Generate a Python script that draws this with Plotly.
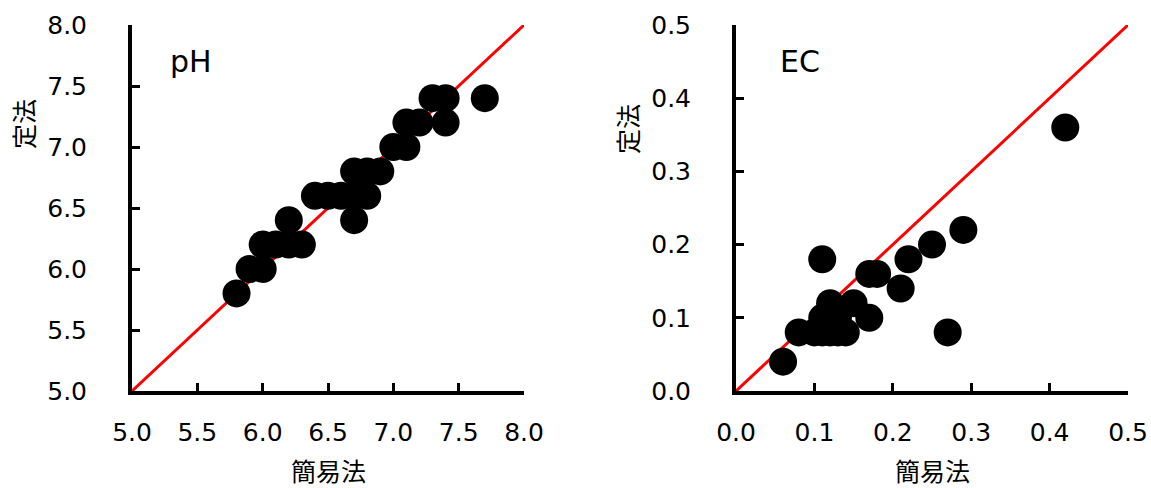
import plotly.graph_objects as go

# pH data (簡易法 vs 定法)
ph_simple = [5.8, 5.9, 6.0, 6.0, 6.1, 6.2, 6.2, 6.3, 6.4, 6.5, 6.6, 6.7, 6.7, 6.7, 6.8, 6.8, 6.9, 7.0, 7.1, 7.1, 7.2, 7.3, 7.4, 7.4, 7.7]
ph_standard = [5.8, 6.0, 6.0, 6.2, 6.2, 6.2, 6.4, 6.2, 6.6, 6.6, 6.6, 6.4, 6.6, 6.8, 6.8, 6.6, 6.8, 7.0, 7.0, 7.2, 7.2, 7.4, 7.4, 7.2, 7.4]

# EC data
ec_simple = [0.06, 0.08, 0.11, 0.10, 0.11, 0.12, 0.13, 0.14, 0.11, 0.12, 0.13, 0.12, 0.15, 0.17, 0.17, 0.18, 0.21, 0.22, 0.25, 0.29, 0.27, 0.42]
ec_standard = [0.04, 0.08, 0.18, 0.08, 0.08, 0.08, 0.08, 0.08, 0.10, 0.10, 0.10, 0.12, 0.12, 0.10, 0.16, 0.16, 0.14, 0.18, 0.20, 0.22, 0.08, 0.36]

ph_range = [5.0, 8.0]
ec_range = [0.0, 0.5]

x_title = "簡易法"
y_title = "定法"

font_family = "DejaVu Sans, Verdana, Noto Sans CJK JP"
jp_font = "Noto Sans CJK JP"

fig = go.Figure()

# 1:1 lines
fig.add_trace(go.Scatter(x=ph_range, y=ph_range, mode="lines",
                         line=dict(color="#ff0000", width=3), xaxis="x", yaxis="y",
                         showlegend=False, hoverinfo="skip"))
fig.add_trace(go.Scatter(x=ec_range, y=ec_range, mode="lines",
                         line=dict(color="#ff0000", width=3), xaxis="x2", yaxis="y2",
                         showlegend=False, hoverinfo="skip"))

fig.add_trace(go.Scatter(x=ph_simple, y=ph_standard, mode="markers",
                         marker=dict(color="black", size=28), xaxis="x", yaxis="y",
                         cliponaxis=False, showlegend=False))
fig.add_trace(go.Scatter(x=ec_simple, y=ec_standard, mode="markers",
                         marker=dict(color="black", size=28), xaxis="x2", yaxis="y2",
                         cliponaxis=False, showlegend=False))

W, H = 1151, 488


def px(sx):
    return sx / W


def py(sy):
    return 1 - sy / H


top, bottom = 25, 391
yd = [py(bottom), py(top)]

axis_common = dict(showgrid=False, zeroline=False, showline=True, linecolor="black",
                   linewidth=4, ticks="inside", ticklen=8, tickwidth=3, tickcolor="black",
                   tickfont=dict(family=font_family, size=25, color="black"),
                   tickformat=".1f", fixedrange=True, automargin=False,
                   ticklabeloverflow="allow")

fig.update_layout(
    width=W, height=H,
    margin=dict(l=0, r=0, t=0, b=0, autoexpand=False),
    paper_bgcolor="white", plot_bgcolor="white",
    xaxis=dict(domain=[px(132), px(524)], range=ph_range, dtick=0.5, anchor="y",
               ticklabelstandoff=16, **axis_common),
    yaxis=dict(domain=yd, range=ph_range, dtick=0.5, anchor="x",
               ticklabelstandoff=36, **axis_common),
    xaxis2=dict(domain=[px(736), px(1128)], range=ec_range, dtick=0.1, anchor="y2",
                ticklabelstandoff=16, **axis_common),
    yaxis2=dict(domain=yd, range=ec_range, dtick=0.1, anchor="x2",
                ticklabelstandoff=36, **axis_common),
)

annotations = [
    dict(text="pH", x=px(168), y=py(62), xanchor="left", yanchor="middle",
         font=dict(family=font_family, size=30, color="black")),
    dict(text="EC", x=px(778), y=py(62), xanchor="left", yanchor="middle",
         font=dict(family=font_family, size=30, color="black")),
    dict(text=x_title, x=px(328), y=py(470), xanchor="center", yanchor="middle",
         font=dict(family=jp_font, size=25, color="black")),
    dict(text=x_title, x=px(932), y=py(470), xanchor="center", yanchor="middle",
         font=dict(family=jp_font, size=25, color="black")),
    dict(text=y_title, x=px(23), y=py(124), xanchor="center", yanchor="middle", textangle=-90,
         font=dict(family=jp_font, size=25, color="black")),
    dict(text=y_title, x=px(627), y=py(129), xanchor="center", yanchor="middle", textangle=-90,
         font=dict(family=jp_font, size=25, color="black")),
]
for a in annotations:
    a.update(xref="paper", yref="paper", showarrow=False)
fig.update_layout(annotations=annotations)

# remove the default page margin so the figure fills the window exactly
fig.write_html("out.html",
               config={"displayModeBar": False, "staticPlot": True},
               post_script="document.body.style.margin='0';document.body.style.overflow='hidden';")
